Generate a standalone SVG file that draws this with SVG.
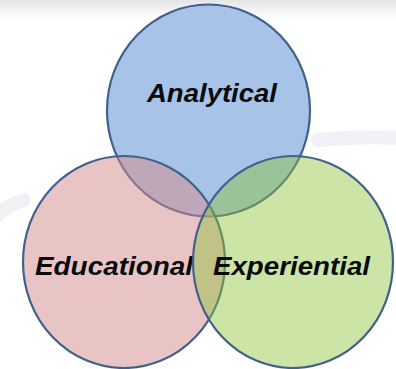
<svg xmlns="http://www.w3.org/2000/svg" width="396" height="369" viewBox="0 0 396 369">
  <defs>
    <linearGradient id="topband" x1="0" y1="0" x2="0" y2="1">
      <stop offset="0" stop-color="#e6e6e8"/>
      <stop offset="1" stop-color="#ffffff"/>
    </linearGradient>
    <style>
      .ring { stroke: #41608c; stroke-width: 2.2; }
      .label { font-family: "Liberation Sans", Arial, sans-serif; font-weight: bold; font-style: italic; font-size: 25px; fill: #0a0a0a; text-anchor: middle; }
      .swoosh { fill: none; stroke: #f0f2f5; stroke-width: 14; stroke-linecap: round; }
    </style>
  </defs>
  <rect x="0" y="0" width="396" height="369" fill="#ffffff"/>
  <rect x="0" y="0" width="396" height="20" fill="url(#topband)"/>
  <g id="background">
    <path class="swoosh" d="M 318 140 Q 360 136 400 138"/>
    <path class="swoosh" d="M -4 216 Q 10 204 24 200"/>
  </g>
  <g id="analytical">
    <ellipse class="ring" cx="208.5" cy="110.5" rx="101.5" ry="106" fill="#a7c4e8"/>
    <text class="label" x="212" y="102" textLength="130" lengthAdjust="spacingAndGlyphs">Analytical</text>
  </g>
  <g id="educational">
    <ellipse class="ring" cx="124" cy="262" rx="101" ry="106" fill="#d38989" fill-opacity="0.5"/>
    <text class="label" x="114" y="275" textLength="158" lengthAdjust="spacingAndGlyphs">Educational</text>
  </g>
  <g id="experiential">
    <ellipse class="ring" cx="293" cy="262" rx="100" ry="106" fill="#8fc43a" fill-opacity="0.45"/>
    <text class="label" x="291.5" y="275" textLength="157" lengthAdjust="spacingAndGlyphs">Experiential</text>
  </g>
  <g id="connectors"/>
</svg>
